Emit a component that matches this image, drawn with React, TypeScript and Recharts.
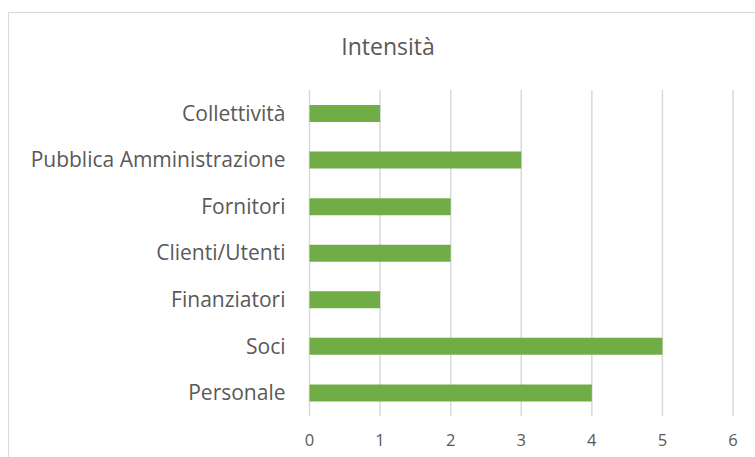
import { Bar, BarChart, CartesianGrid, XAxis, YAxis } from "recharts";

const categories = [
  "Collettività",
  "Pubblica Amministrazione",
  "Fornitori",
  "Clienti/Utenti",
  "Finanziatori",
  "Soci",
  "Personale",
];
const intensita = [1, 3, 2, 2, 1, 5, 4];
const xTicks = [0, 1, 2, 3, 4, 5, 6];

const data = categories.map((name, i) => ({ name, value: intensita[i] }));

const FONT = "'Open Sans', 'Noto Sans', sans-serif";
const TEXT = "#595959";

export default function App() {
  return (
    <div style={{ position: "fixed", left: 0, top: 0, width: 755, height: 457, background: "#fff", overflow: "hidden", fontFamily: FONT }}>
      <div
        style={{
          position: "absolute", left: 8, top: 12, width: 800, height: 500,
          borderLeft: "1.5px solid #d9d9d9", borderTop: "1.5px solid #d9d9d9",
        }}
      />
      <div style={{ position: "absolute", left: 0, top: 30, width: 776, textAlign: "center", fontSize: 23, color: TEXT }}>
        Intensità
      </div>
      <div style={{ position: "absolute", left: 0, top: 0 }}>
        <BarChart
          width={755}
          height={457}
          data={data}
          layout="vertical"
          margin={{ top: 90, right: 22, bottom: 0, left: 0 }}
        >
          <CartesianGrid horizontal={false} stroke="#d9d9d9" strokeWidth={1.5} />
          <XAxis
            type="number"
            domain={[0, 6]}
            ticks={xTicks}
            axisLine={false}
            tickLine={false}
            tickSize={0}
            tickMargin={18}
            height={41}
            tick={{ fontSize: 16.5, fill: TEXT, fontFamily: FONT }}
          />
          <YAxis
            type="category"
            dataKey="name"
            width={309.5}
            axisLine={false}
            tickLine={false}
            tickSize={0}
            tickMargin={24}
            tick={{ fontSize: 21, fill: TEXT, fontFamily: FONT }}
          />
          <Bar dataKey="value" fill="#70AD47" barSize={17} isAnimationActive={false} />
        </BarChart>
      </div>
    </div>
  );
}
